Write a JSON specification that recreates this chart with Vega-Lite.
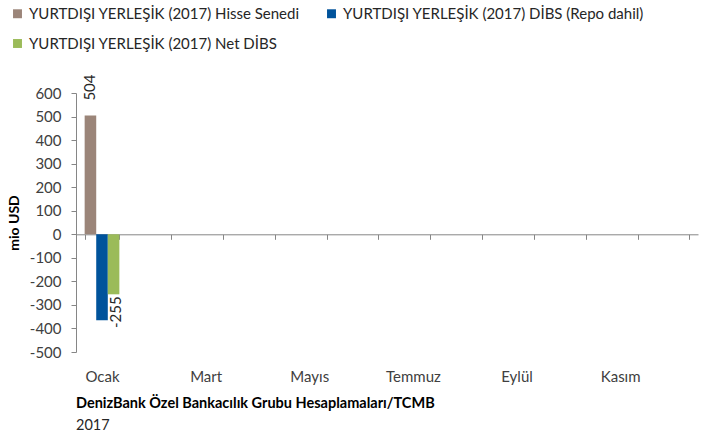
{
  "$schema": "https://vega.github.io/schema/vega-lite/v6.json",
  "width": 622,
  "height": 259,
  "autosize": {"type": "none"},
  "padding": {"left": 76, "top": 93, "right": 4, "bottom": 85},
  "config": {
    "font": "Lato",
    "view": {"stroke": null},
    "axis": {"labelColor": "#404040", "labelFont": "Lato", "labelFontSize": 15, "domainColor": "#868686", "tickColor": "#868686", "grid": false}
  },
  "title": {
    "text": "DenizBank Özel Bankacılık Grubu Hesaplamaları/TCMB",
    "subtitle": "2017",
    "orient": "bottom",
    "anchor": "start",
    "frame": "group",
    "font": "Lato",
    "fontSize": 14.5,
    "fontWeight": "bold",
    "color": "#000000",
    "subtitleFont": "Lato",
    "subtitleFontSize": 14.5,
    "subtitleColor": "#262626",
    "subtitlePadding": 7,
    "offset": 13
  },
  "data": {
    "values": [
      {"ay": "Ocak", "seri": "YURTDIŞI YERLEŞİK (2017) Hisse Senedi", "deger": 504},
      {"ay": "Ocak", "seri": "YURTDIŞI YERLEŞİK (2017) DİBS (Repo dahil)", "deger": -365},
      {"ay": "Ocak", "seri": "YURTDIŞI YERLEŞİK (2017) Net DİBS", "deger": -255}
    ]
  },
  "encoding": {
    "x": {
      "field": "ay",
      "type": "nominal",
      "scale": {"domain": ["Ocak", "Şubat", "Mart", "Nisan", "Mayıs", "Haziran", "Temmuz", "Ağustos", "Eylül", "Ekim", "Kasım", "Aralık"], "paddingInner": 0.33, "paddingOuter": 0.167},
      "axis": {
        "title": null,
        "orient": "bottom",
        "offset": -117.7,
        "labelAngle": 0,
        "labelPadding": 130,
        "tickBand": "extent",
        "tickSize": 5,
        "labelExpr": "indexof(['Ocak','Mart','Mayıs','Temmuz','Eylül','Kasım'], datum.value) >= 0 ? datum.label : ''"
      }
    },
    "xOffset": {
      "field": "seri",
      "type": "nominal",
      "scale": {"domain": ["YURTDIŞI YERLEŞİK (2017) Hisse Senedi", "YURTDIŞI YERLEŞİK (2017) DİBS (Repo dahil)", "YURTDIŞI YERLEŞİK (2017) Net DİBS"], "paddingInner": 0, "paddingOuter": 0}
    },
    "y": {
      "field": "deger",
      "type": "quantitative",
      "scale": {"domain": [-500, 600], "nice": false},
      "axis": {
        "title": "mio USD",
        "titleFont": "Lato",
        "titleFontSize": 14,
        "titleFontWeight": "bold",
        "titleColor": "#000000",
        "titlePadding": 8,
        "values": [-500, -400, -300, -200, -100, 0, 100, 200, 300, 400, 500, 600],
        "tickSize": 5,
        "labelPadding": 10,
        "labelExpr": "replace(datum.label, '−', '-')"
      }
    }
  },
  "layer": [
    {
      "mark": {"type": "bar"},
      "encoding": {
        "color": {
          "field": "seri",
          "type": "nominal",
          "scale": {
            "domain": ["YURTDIŞI YERLEŞİK (2017) Hisse Senedi", "YURTDIŞI YERLEŞİK (2017) DİBS (Repo dahil)", "YURTDIŞI YERLEŞİK (2017) Net DİBS"],
            "range": ["#9B8579", "#00539B", "#9BBB59"]
          },
          "legend": {
            "title": null,
            "orient": "none",
            "direction": "horizontal",
            "legendX": -66,
            "legendY": -87,
            "columns": 2,
            "columnPadding": 24,
            "rowPadding": 14,
            "symbolType": "square",
            "symbolSize": 80,
            "symbolStrokeWidth": 0,
            "labelFont": "Lato",
            "labelFontSize": 15,
            "labelColor": "#262626",
            "labelLimit": 500,
            "labelOffset": 4
          }
        }
      }
    },
    {
      "transform": [{"filter": "datum.deger > 0"}],
      "mark": {"type": "text", "angle": 270, "align": "left", "baseline": "middle", "dx": 15, "fontSize": 15, "color": "#262626"},
      "encoding": {"text": {"field": "deger", "type": "nominal"}}
    },
    {
      "transform": [{"filter": "datum.deger == -255"}],
      "mark": {"type": "text", "angle": 270, "align": "right", "baseline": "middle", "dx": -2, "dy": 2, "fontSize": 15, "color": "#262626"},
      "encoding": {"text": {"field": "deger", "type": "nominal"}}
    }
  ]
}
